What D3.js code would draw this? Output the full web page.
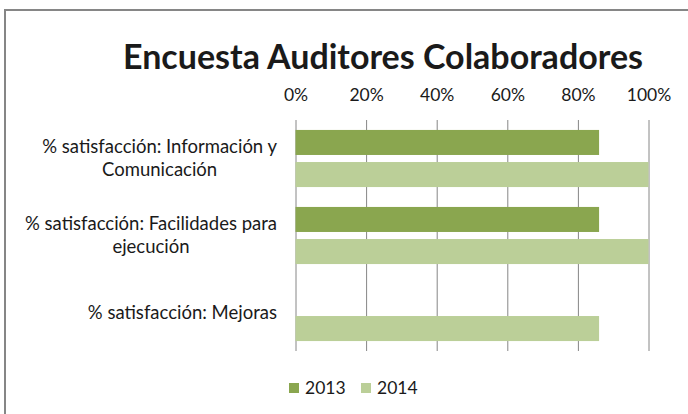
<!DOCTYPE html>
<html>
<head>
<meta charset="utf-8">
<script src="https://cdn.jsdelivr.net/npm/d3@7/dist/d3.min.js"></script>
<style>
  body { margin: 0; background: #fff; }
  svg text { font-family: Lato, "Open Sans", sans-serif; fill: #1a1a1a; }
</style>
</head>
<body>
<svg id="chart" width="688" height="414"></svg>
<script>
const categories = ["% satisfacción: Información y|Comunicación", "% satisfacción: Facilidades para|ejecución", "% satisfacción: Mejoras"];
const seriesNames = ["2013", "2014"];
const values2013 = [0.86, 0.86, null];
const values2014 = [1.0, 1.0, 0.86];
const tickValues = [0, 0.2, 0.4, 0.6, 0.8, 1.0];
const colors = { "2013": "#8aa64f", "2014": "#bbcf98" };

const svg = d3.select("#chart");
const w = 688, h = 414;

// outer chart border (cut off at right / bottom like the screenshot)
svg.append("rect").attr("x", 5).attr("y", 10).attr("width", w + 20).attr("height", h + 20)
   .attr("fill", "none").attr("stroke", "#868686").attr("stroke-width", 2);

// title, fitted to the reference width
const title = svg.append("text").attr("x", 383).attr("y", 69).attr("text-anchor", "middle")
   .style("font-weight", "bold").style("font-size", "32px").text("Encuesta Auditores Colaboradores");
const tw = title.node().getComputedTextLength();
title.style("font-size", (32 * 520 / tw).toFixed(2) + "px");

const x = d3.scaleLinear().domain([0, 1]).range([295.5, 648.5]);
const y = d3.scaleBand().domain(categories).range([120, 351]);
const ySub = d3.scaleBand().domain(seriesNames).range([0, y.bandwidth()]).paddingInner(0.22).paddingOuter(0.31);

// gridlines + top tick labels
const axis = svg.append("g").attr("transform", "translate(0,120)")
   .call(d3.axisTop(x).tickValues(tickValues).tickFormat(d3.format(".0%")).tickSize(-231).tickPadding(19));
axis.select(".domain").remove();
axis.selectAll("line").attr("stroke", "#868686").attr("stroke-width", 1);
axis.selectAll("text").style("font-size", "17.5px").style("font-family", "Lato, 'Open Sans', sans-serif").attr("fill", "#1a1a1a");

// bars
const rows = [];
categories.forEach((c, i) => {
    if (values2013[i] != null) rows.push({ cat: c, s: "2013", v: values2013[i] });
    if (values2014[i] != null) rows.push({ cat: c, s: "2014", v: values2014[i] });
});
svg.append("g").selectAll("rect").data(rows).join("rect")
   .attr("x", x(0)).attr("y", d => y(d.cat) + ySub(d.s))
   .attr("width", d => x(d.v) - x(0)).attr("height", ySub.bandwidth())
   .attr("fill", d => colors[d.s]);

// category labels: block right-aligned, lines centred inside it
const labels = svg.append("g");
categories.forEach(c => {
    const lines = c.split("|");
    const g = labels.append("g");
    const cy = y(c) + y.bandwidth() / 2;
    const lh = 23;
    const texts = lines.map((t, i) => g.append("text")
        .attr("y", cy + (i - (lines.length - 1) / 2) * lh).attr("dy", "0.35em")
        .attr("text-anchor", "middle").style("font-size", "18.5px").text(t));
    const maxW = d3.max(texts, t => t.node().getComputedTextLength());
    texts.forEach(t => t.attr("x", 277 - maxW / 2));
});

// legend
const legend = svg.append("g").attr("transform", "translate(289,388)");
seriesNames.forEach((s, i) => {
    const lg = legend.append("g").attr("transform", `translate(${i * 72},0)`);
    lg.append("rect").attr("x", 0).attr("y", -5).attr("width", 10).attr("height", 10).attr("fill", colors[s]);
    lg.append("text").attr("x", 16).attr("dy", "0.35em").style("font-size", "17.5px").text(s);
});
</script>
</body>
</html>
